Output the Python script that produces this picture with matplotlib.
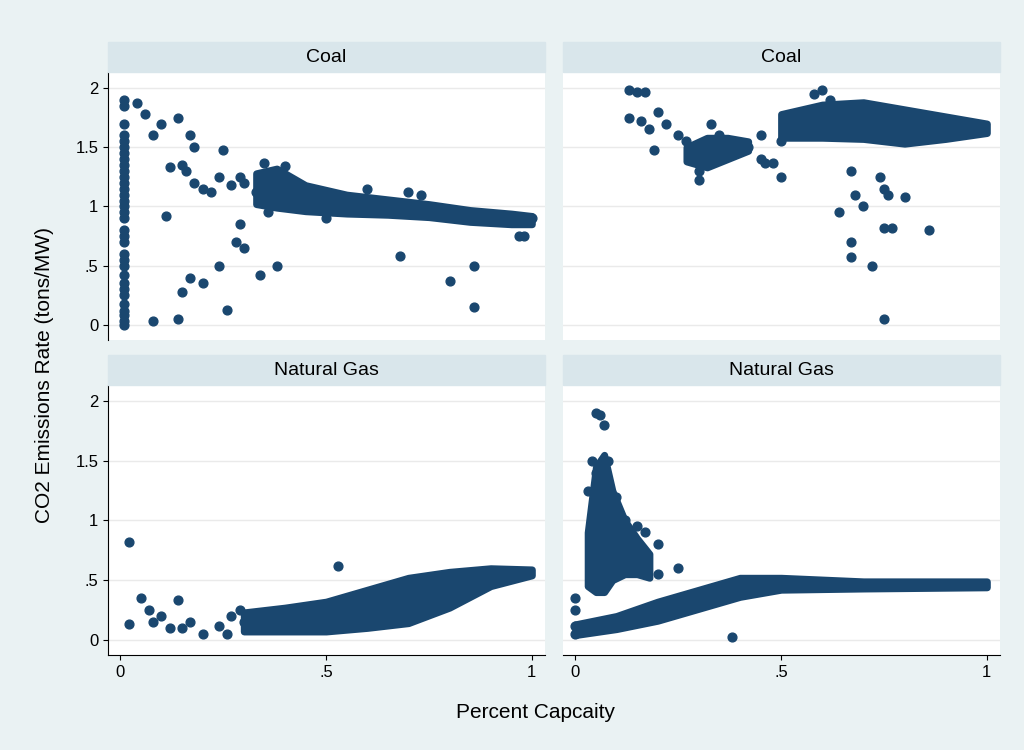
import matplotlib.pyplot as plt

plt.rcParams['font.family'] = ['Liberation Sans', 'DejaVu Sans']
navy = "#1a476f"

# Coal, left panel
cl_vert_y = [0, .03, .08, .12, .18, .25, .3, .35, .42, .5, .55, .6, .7, .75, .8, .9, .95, 1, 1.05,
             1.1, 1.15, 1.2, 1.25, 1.3, 1.35, 1.4, 1.45, 1.5, 1.55, 1.6, 1.7, 1.85, 1.9]
cl_pts = [(.04, 1.87), (.06, 1.78), (.1, 1.7), (.08, 1.6), (.14, 1.75), (.17, 1.6), (.18, 1.5), (.12, 1.33),
          (.15, 1.35), (.16, 1.3), (.18, 1.2), (.2, 1.15), (.22, 1.12), (.25, 1.48), (.24, 1.25), (.27, 1.18),
          (.29, 1.25), (.3, 1.2), (.11, .92), (.08, .03), (.14, .05), (.15, .28), (.17, .4), (.2, .35),
          (.24, .5), (.26, .13), (.28, .7), (.3, .65), (.29, .85), (.34, .42), (.38, .5), (.68, .58),
          (.8, .37), (.86, .5), (.86, .15), (.97, .75), (.35, 1.37), (.4, 1.34), (.33, 1.12), (.36, .95),
          (.5, .9), (.6, 1.15), (.7, 1.12), (.73, 1.1), (.98, .75), (1.0, .9)]
cl_band_x = [.33, .38, .45, .55, .65, .75, .85, .95, 1.0]
cl_band_hi = [1.28, 1.32, 1.18, 1.1, 1.06, 1.02, .97, .94, .92]
cl_band_lo = [1.02, .99, .96, .94, .93, .91, .87, .85, .85]

# Coal, right panel
cr_pts = [(.13, 1.98), (.15, 1.97), (.17, 1.97), (.13, 1.75), (.16, 1.72), (.18, 1.65), (.2, 1.8), (.22, 1.7),
          (.19, 1.48), (.25, 1.6), (.27, 1.55), (.3, 1.3), (.3, 1.22), (.33, 1.7), (.35, 1.6), (.37, 1.45),
          (.38, 1.55), (.42, 1.5), (.45, 1.6), (.45, 1.4), (.46, 1.37), (.48, 1.37), (.5, 1.25), (.5, 1.55),
          (.53, 1.7), (.55, 1.6), (.58, 1.95), (.6, 1.98), (.62, 1.9), (.64, .95), (.67, .7), (.67, .57),
          (.67, 1.3), (.68, 1.1), (.7, 1.0), (.72, .5), (.74, 1.25), (.75, 1.15), (.75, .82), (.76, 1.1),
          (.77, .82), (.8, 1.08), (.86, .8), (.75, .05)]
cr_band1_x = [.27, .32, .37, .42]
cr_band1_hi = [1.5, 1.58, 1.58, 1.55]
cr_band1_lo = [1.38, 1.33, 1.4, 1.47]
cr_band2_x = [.5, .6, .7, .8, .9, 1.0]
cr_band2_hi = [1.78, 1.86, 1.88, 1.82, 1.76, 1.7]
cr_band2_lo = [1.58, 1.58, 1.57, 1.53, 1.57, 1.62]

# Natural gas, left panel
gl_pts = [(.02, .82), (.02, .13), (.05, .35), (.07, .25), (.08, .15), (.1, .2), (.12, .1), (.14, .33),
          (.15, .1), (.17, .15), (.2, .05), (.24, .12), (.26, .05), (.27, .2), (.29, .25), (.3, .15),
          (.53, .62), (.7, .45)]
gl_band_x = [.3, .4, .5, .6, .7, .8, .9, 1.0]
gl_band_hi = [.23, .27, .32, .42, .52, .57, .6, .59]
gl_band_lo = [.07, .07, .07, .1, .14, .27, .45, .54]

# Natural gas, right panel
gr_pts = [(.05, 1.9), (.06, 1.88), (.07, 1.8), (.04, 1.5), (.05, 1.4), (.08, 1.5), (.03, 1.25), (.1, 1.2),
          (.12, 1.0), (.15, .95), (.17, .9), (.2, .8), (.14, .6), (.2, .55), (.25, .6), (.38, .02),
          (.0, .35), (.0, .25), (.0, .12), (.0, .05)]
gr_spike_x = [.03, .05, .07, .09, .12, .15, .18]
gr_spike_hi = [.9, 1.45, 1.55, 1.25, 1.0, .85, .72]
gr_spike_lo = [.45, .4, .4, .5, .55, .55, .52]
gr_band_x = [0, .1, .2, .3, .4, .5, .7, 1.0]
gr_band_hi = [.13, .2, .32, .42, .52, .52, .49, .49]
gr_band_lo = [.04, .09, .16, .26, .36, .42, .43, .44]

fig = plt.figure(figsize=(10.24, 7.5), dpi=100, facecolor="#eaf2f3")
W, H = 1024, 750


def panel(left, top, right, bottom, title, pts, bands, vert=None, ylab=False, xlab=False):
    ax = fig.add_axes([left / W, 1 - bottom / H, (right - left) / W, (bottom - top) / H])
    fig.patches.append(plt.Rectangle((left / W, 1 - (top) / H), (right - left) / W, 30 / H,
                                     transform=fig.transFigure, color="#d9e6eb"))
    fig.text((left + right) / 2 / W, 1 - (top - 15) / H, title, ha="center", va="center", fontsize=14)
    ax.set_xlim(-0.03, 1.032)
    ax.set_ylim(-0.127, 2.135)
    ax.set_yticks([0, .5, 1, 1.5, 2])
    ax.grid(axis="y", color="#eaeaea", lw=1)
    ax.set_axisbelow(True)
    for s in ["top", "right"]:
        ax.spines[s].set_visible(False)
    ax.spines["left"].set_visible(ylab)
    ax.spines["bottom"].set_visible(xlab)
    if ylab:
        ax.set_yticklabels(["0", ".5", "1", "1.5", "2"], fontsize=12)
    else:
        ax.tick_params(axis="y", length=0, labelleft=False)
    if xlab:
        ax.set_xticks([0, .5, 1])
        ax.set_xticklabels(["0", ".5", "1"], fontsize=12)
    else:
        ax.tick_params(axis="x", length=0, labelbottom=False)
    for bx, hi, lo in bands:
        ax.fill_between(bx, lo, hi, color=navy, lw=5, edgecolor=navy)
    ax.scatter([p[0] for p in pts], [p[1] for p in pts], s=40, color=navy, zorder=3)
    if vert is not None:
        ax.scatter([0.01] * len(vert), vert, s=40, color=navy, zorder=3)
    return ax


panel(108, 72, 545, 340, "Coal", cl_pts, [(cl_band_x, cl_band_hi, cl_band_lo)], vert=cl_vert_y, ylab=True)
panel(563, 72, 1000, 340, "Coal", cr_pts,
      [(cr_band1_x, cr_band1_hi, cr_band1_lo), (cr_band2_x, cr_band2_hi, cr_band2_lo)])
panel(108, 385, 545, 655, "Natural Gas", gl_pts, [(gl_band_x, gl_band_hi, gl_band_lo)], ylab=True, xlab=True)
panel(563, 385, 1000, 655, "Natural Gas", gr_pts,
      [(gr_spike_x, gr_spike_hi, gr_spike_lo), (gr_band_x, gr_band_hi, gr_band_lo)], xlab=True)

fig.text(45 / W, 0.5, "CO2 Emissions Rate (tons/MW)", rotation=90, ha="center", va="center", fontsize=15)
fig.text(535 / W, 1 - 713 / H, "Percent Capcaity", ha="center", va="center", fontsize=15)

fig.savefig("out.png", dpi=100, facecolor=fig.get_facecolor())
